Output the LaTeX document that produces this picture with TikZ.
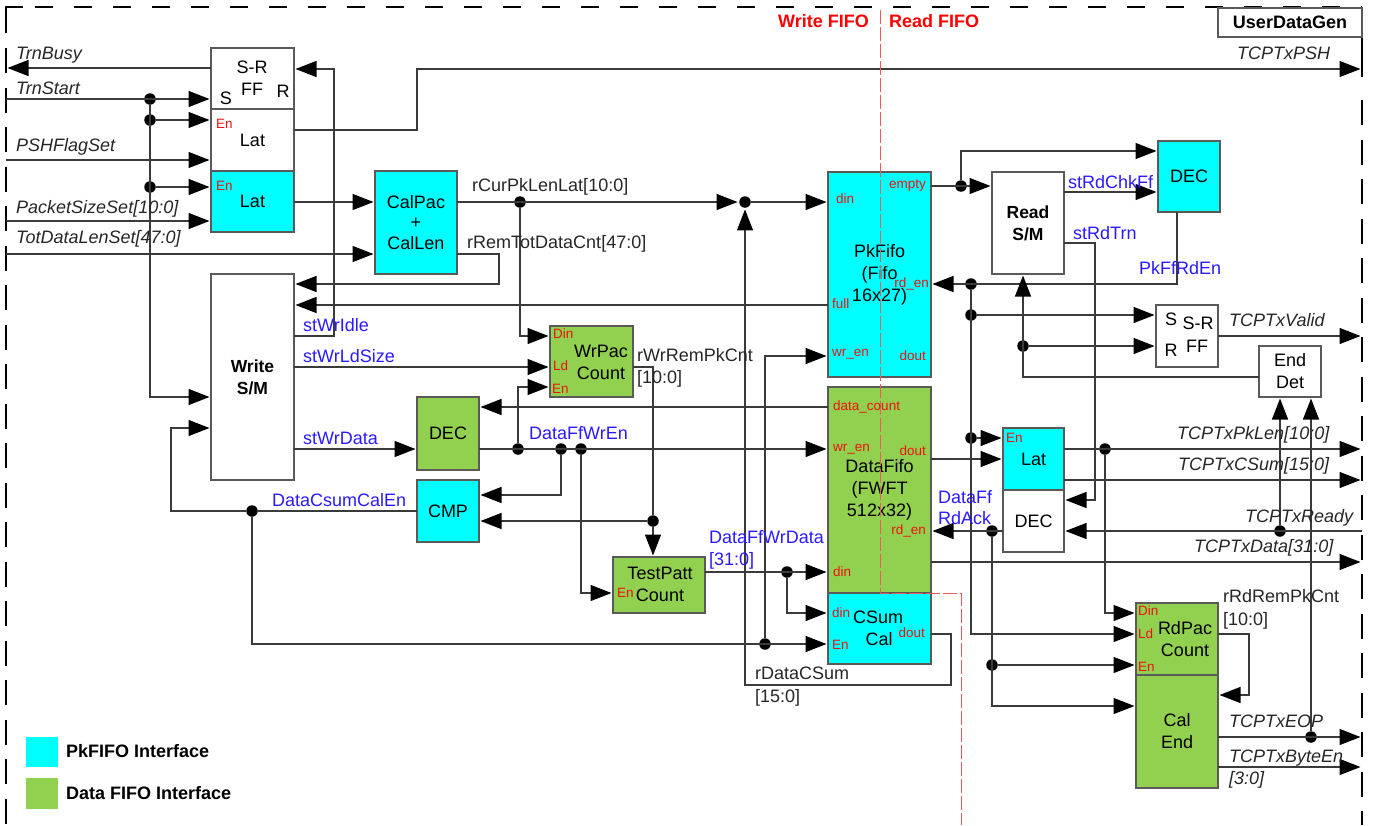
\documentclass[tikz,border=0pt]{standalone}
\usepackage{fontspec}
\setmainfont{Liberation Sans}
\usetikzlibrary{arrows.meta}
\definecolor{PkCyan}{HTML}{00FFFF}
\definecolor{DataGreen}{HTML}{92D050}
\definecolor{SigBlue}{HTML}{2A1AFF}
\definecolor{PortRed}{HTML}{F01010}
\definecolor{WireGray}{HTML}{3A3A3A}
\definecolor{EdgeGray}{HTML}{5A5A5A}
\definecolor{SplitPink}{HTML}{F05A5A}
\tikzset{
  block/.style={draw=EdgeGray, line width=1.4pt, inner sep=0pt, outer sep=0pt, align=center,
    font=\fontsize{18}{22}\selectfont},
  blockbold/.style={font=\fontsize{17.5}{22}\selectfont\bfseries},
  cyanfill/.style={fill=PkCyan},
  greenfill/.style={fill=DataGreen},
  sig/.style={draw=WireGray, line width=1.3pt, shorten >=1.5pt,
    -{Triangle[length=21pt,width=16pt,color=black]}},
  net/.style={draw=WireGray, line width=1.3pt},
  joint/.style={circle, fill=black, inner sep=0pt, minimum size=11.5pt},
  txt/.style={font=\fontsize{18}{22}\selectfont, inner sep=0pt, align=center},
  lbl/.style={font=\fontsize{18}{22}\selectfont, inner sep=0pt, anchor=base west, text=black!85},
  lblblue/.style={lbl, text=SigBlue},
  lblital/.style={lbl, font=\fontsize{18}{22}\selectfont\itshape},
  portl/.style={font=\fontsize{13.5}{16}\selectfont, inner sep=0pt, anchor=west, text=PortRed},
  portr/.style={portl, anchor=east},
  legendtxt/.style={font=\fontsize{18}{20}\selectfont\bfseries, inner sep=0pt, anchor=west},
  headred/.style={font=\fontsize{18}{22}\selectfont\bfseries, inner sep=0pt, anchor=base west, text=red},
  frameline/.style={line width=1.5pt, black},
}
\NewDocumentCommand{\Block}{O{}mmmmmm}{
    \node[block, #1, minimum width={#5-#3}, minimum height={#6-#4}] (#2)
        at ({(#3+#5)/2},{(#4+#6)/2}) {#7};
}

\begin{document}
\begin{tikzpicture}[x=1pt, y=-1pt]
\useasboundingbox (0,0) rectangle (1373,825);

\draw[frameline] (6,33) -- (6,7) -- (23,7);
\draw[frameline, dash pattern=on 18pt off 21pt] (35,7) -- (1362,7);
\draw[frameline, dash pattern=on 25pt off 14.5pt] (6,48) -- (6,825);
\draw[frameline] (1362,37) -- (1362,77);
\draw[frameline, dash pattern=on 25pt off 14.5pt] (1362,100) -- (1362,825);

\begin{scope}[name prefix=Pin-]
    \coordinate (TrnBusy) at (6,68);
    \coordinate (TrnStart) at (6,99);
    \coordinate (PSHFlagSet) at (6,160);
    \coordinate (PacketSizeSet) at (6,221);
    \coordinate (TotDataLenSet) at (6,254);
    \coordinate (TCPTxPSH) at (1362,69);
    \coordinate (TCPTxValid) at (1362,336);
    \coordinate (TCPTxPkLen) at (1362,449);
    \coordinate (TCPTxCSum) at (1362,480);
    \coordinate (TCPTxReady) at (1362,531);
    \coordinate (TCPTxData) at (1362,562);
    \coordinate (TCPTxEOP) at (1362,737);
    \coordinate (TCPTxByteEn) at (1362,767);
\end{scope}

\Block{srFf}{211}{48}{294}{109}{}
\Block{latWhite}{211}{109}{294}{171}{Lat}
\Block[cyanfill]{latCyan}{211}{171}{294}{232}{Lat}
\Block[cyanfill]{calPac}{375}{171}{457}{274}{CalPac\\[-2pt]+\\[-1pt]CalLen}
\Block[blockbold]{writeSm}{211}{274}{294}{480}{Write\\S/M}
\Block[greenfill]{wrPac}{550}{326}{633}{397}{}
\Block[greenfill]{decWr}{417}{397}{479}{470}{DEC}
\Block[cyanfill]{cmpWr}{417}{480}{479}{542}{CMP}
\Block[greenfill]{testPatt}{613}{557}{705}{613}{}
\Block[cyanfill]{pkFifo}{828}{172}{931}{377}{PkFifo\\(Fifo\\16x27)}
\Block[greenfill]{dataFifo}{828}{387}{931}{593}{DataFifo\\(FWFT\\512x32)}
\Block[cyanfill]{cSum}{828}{593}{931}{664}{}
\Block[blockbold]{readSm}{992}{172}{1064}{274}{Read\\S/M}
\Block[cyanfill]{decRd}{1158}{141}{1220}{212}{DEC}
\Block{srFfRd}{1156}{305}{1218}{367}{}
\Block{endDet}{1259}{346}{1321}{397}{End\\Det}
\Block[cyanfill]{latRd}{1003}{428}{1064}{490}{Lat}
\Block{decAck}{1003}{490}{1064}{552}{DEC}
\Block[greenfill]{rdPac}{1136}{603}{1218}{675}{}
\Block[greenfill]{calEnd}{1136}{675}{1218}{788}{Cal\\End}
\Block[font=\fontsize{18}{22}\selectfont\bfseries]{userGen}{1218}{8}{1362}{37}{UserDataGen}

\node[joint] (jStart) at (150,99) {};
\node[joint] (jEnOne) at (150,120) {};
\node[joint] (jEnTwo) at (150,187) {};
\node[joint] (jCur) at (520,202) {};
\node[joint] (jMerge) at (745,202) {};
\node[joint] (jWrA) at (518,449) {};
\node[joint] (jWrB) at (561,449) {};
\node[joint] (jWrC) at (581,449) {};
\node[joint] (jRem) at (653,521) {};
\node[joint] (jCsum) at (252,511) {};
\node[joint] (jCsumEn) at (765,644) {};
\node[joint] (jTest) at (787,572) {};
\node[joint] (jEmpty) at (961,186) {};
\node[joint] (jRdEn) at (971,284) {};
\node[joint] (jValid) at (971,315) {};
\node[joint] (jLatEn) at (971,438) {};
\node[joint] (jEndDet) at (1023,346) {};
\node[joint] (jPkLen) at (1105,449) {};
\node[joint] (jReady) at (1280,531) {};
\node[joint] (jAck) at (992,531) {};
\node[joint] (jAckEn) at (992,665) {};
\node[joint] (jEop) at (1311,737) {};

\draw[sig] (srFf.west |- Pin-TrnBusy) -- (Pin-TrnBusy);
\draw[sig] (Pin-TrnStart) -- (srFf.west |- Pin-TrnStart);
\draw[sig] (jEnOne) -- (latWhite.west |- jEnOne);
\draw[sig] (Pin-PSHFlagSet) -- (latWhite.west |- Pin-PSHFlagSet);
\draw[sig] (jEnTwo) -- (latCyan.west |- jEnTwo);
\draw[sig] (Pin-PacketSizeSet) -- (latCyan.west |- Pin-PacketSizeSet);
\draw[sig] (Pin-TotDataLenSet) -- (calPac.west |- Pin-TotDataLenSet);
\draw[sig] (jStart) |- (writeSm.west |- 0,397);
\draw[sig] (latCyan.east |- 0,202) -- (calPac.west |- 0,202);
\draw[sig] (latWhite.east |- 0,130) -| (417,69) -- (Pin-TCPTxPSH);
\draw[sig] (writeSm.east |- 0,336) -| (334,69) -- (srFf.east |- 0,69);
\draw[sig] (calPac.east |- 0,254) -| (499,284) -- (writeSm.east |- 0,284);
\draw[sig] (pkFifo.west |- 0,305) -- (writeSm.east |- 0,305);
\draw[sig] (writeSm.east |- 0,367) -- (wrPac.west |- 0,367);
\draw[sig] (calPac.east |- jCur) -- (jMerge);
\draw[sig] (jMerge) -- (pkFifo.west |- jMerge);
\draw[sig] (jCur) |- (wrPac.west |- 0,336);
\draw[sig] (jWrA) |- (wrPac.west |- 0,387);
\draw[sig] (writeSm.east |- jWrA) -- (decWr.west |- jWrA);
\draw[sig] (decWr.east |- jWrA) -- (dataFifo.west |- jWrA);
\draw[sig] (jWrB) |- (cmpWr.east |- 0,495);
\draw[sig] (jWrC) |- (testPatt.west |- 0,593);
\draw[net] (wrPac.east |- 0,367) -| (jRem);
\draw[sig] (jRem) -- (jRem |- testPatt.north);
\draw[sig] (jRem) -- (cmpWr.east |- jRem);
\draw[sig] (dataFifo.west |- 0,407) -- (decWr.east |- 0,407);
\draw[net] (cmpWr.west |- jCsum) -- (jCsum);
\draw[sig] (jCsum) -| (171,428) -- (writeSm.west |- 0,428);
\draw[sig] (jCsum) |- (cSum.west |- jCsumEn);
\draw[sig] (jCsumEn) |- (pkFifo.west |- 0,356);
\draw[sig] (testPatt.east |- jTest) -- (dataFifo.west |- jTest);
\draw[sig] (jTest) |- (cSum.west |- 0,613);
\draw[sig] (cSum.east |- 0,634) -| (951,685) -| (jMerge);
\draw[sig] (pkFifo.east |- jEmpty) -- (readSm.west |- jEmpty);
\draw[sig] (jEmpty) |- (decRd.west |- 0,151);
\draw[sig] (readSm.east |- 0,192) -- (decRd.west |- 0,192);
\draw[sig] (readSm.east |- 0,243) -| (1095,500) -- (decAck.east |- 0,500);
\draw[sig] (decRd.south -| 1177,0) |- (pkFifo.east |- jRdEn);
\draw[sig] (jRdEn) |- (rdPac.west |- 0,634);
\draw[sig] (jValid) -- (srFfRd.west |- jValid);
\draw[sig] (jLatEn) -- (latRd.west |- jLatEn);
\draw[sig] (jEndDet) -- (srFfRd.west |- jEndDet);
\draw[sig] (endDet.west |- 0,377) -| (readSm.south -| jEndDet);
\draw[sig] (dataFifo.east |- 0,459) -- (latRd.west |- 0,459);
\draw[sig] (latRd.east |- jPkLen) -- (Pin-TCPTxPkLen);
\draw[sig] (jPkLen) |- (rdPac.west |- 0,613);
\draw[sig] (latRd.east |- Pin-TCPTxCSum) -- (Pin-TCPTxCSum);
\draw[sig] (Pin-TCPTxReady) -- (decAck.east |- Pin-TCPTxReady);
\draw[sig] (jReady) -- (jReady |- endDet.south);
\draw[sig] (decAck.west |- jAck) -- (dataFifo.east |- jAck);
\draw[sig] (jAck) |- (calEnd.west |- 0,706);
\draw[sig] (jAckEn) -- (rdPac.west |- jAckEn);
\draw[sig] (dataFifo.east |- Pin-TCPTxData) -- (Pin-TCPTxData);
\draw[sig] (rdPac.east |- 0,634) -| (1249,695) -- (calEnd.east |- 0,695);
\draw[sig] (calEnd.east |- Pin-TCPTxEOP) -- (Pin-TCPTxEOP);
\draw[sig] (jEop) -- (jEop |- endDet.south);
\draw[sig] (calEnd.east |- Pin-TCPTxByteEn) -- (Pin-TCPTxByteEn);
\draw[sig] (srFfRd.east |- Pin-TCPTxValid) -- (Pin-TCPTxValid);

\draw[SplitPink, line width=1pt, dash pattern=on 14pt off 3pt]
    (880,10) -- (880,593) -- (961,593) -- (961,825);

\node[lblital] (lTrnBusy) at (16,59) {TrnBusy};
\node[lblital] (lTrnStart) at (16,94) {TrnStart};
\node[lblital] (lPSHFlagSet) at (16,151) {PSHFlagSet};
\node[lblital] (lPacketSizeSet) at (16,213) {PacketSizeSet[10:0]};
\node[lblital] (lTotDataLenSet) at (16,243) {TotDataLenSet[47:0]};
\node[txt] (tSR) at (252,67) {S-R};
\node[txt] (tFF) at (252,89) {FF};
\node[txt] (tS) at (226,98) {S};
\node[txt] (tR) at (283,91) {R};
\node[portl] (pLatWhiteEn) at (216,124) {En};
\node[portl] (pLatCyanEn) at (216,186) {En};
\node[lbl] (lCurPkLen) at (472,191) {rCurPkLenLat[10:0]};
\node[lbl] (lRemTot) at (467,248) {rRemTotDataCnt[47:0]};
\node[lblblue] (lStWrIdle) at (303,331) {stWrIdle};
\node[lblblue] (lStWrLdSize) at (303,362) {stWrLdSize};
\node[lblblue] (lStWrData) at (303,444) {stWrData};
\node[lblblue] (lDataFfWrEn) at (529,439) {DataFfWrEn};
\node[lblblue] (lDataCsum) at (272,506) {DataCsumCalEn};
\node[txt] (tWrPac) at (601,362) {WrPac\\Count};
\node[portl] (pWrDin) at (553,334) {Din};
\node[portl] (pWrLd) at (553,366) {Ld};
\node[portl] (pWrEn) at (552,389) {En};
\node[lbl] (lWrRem) at (637,361) {rWrRemPkCnt};
\node[lbl] (lWrRemBits) at (637,383) {[10:0]};
\node[txt] (tTestPatt) at (660,584) {TestPatt\\Count};
\node[portl] (pTestEn) at (617,593) {En};
\node[lblblue] (lWrData) at (709,543) {DataFfWrData};
\node[lblblue] (lWrDataBits) at (709,565) {[31:0]};
\node[portl] (pPkDin) at (836,199) {din};
\node[portr] (pPkEmpty) at (926,186) {empty};
\node[portr] (pPkRdEn) at (929,284) {rd\_en};
\node[portl] (pPkFull) at (832,304) {full};
\node[portl] (pPkWrEn) at (832,354) {wr\_en};
\node[portr] (pPkDout) at (926,356) {dout};
\node[portl] (pDataCount) at (833,407) {data\_count};
\node[portl] (pDataWrEn) at (833,449) {wr\_en};
\node[portr] (pDataDout) at (926,451) {dout};
\node[portr] (pDataRdEn) at (926,531) {rd\_en};
\node[portl] (pDataDin) at (833,572) {din};
\node[portl] (pCsDin) at (832,613) {din};
\node[txt] (tCSum) at (878,617) {CSum};
\node[txt] (tCal) at (879,639) {Cal};
\node[portr] (pCsDout) at (925,633) {dout};
\node[portl] (pCsEn) at (832,645) {En};
\node[lbl] (lDataCSum) at (755,679) {rDataCSum};
\node[lbl] (lDataCSumBits) at (755,702) {[15:0]};
\node[headred] (lWriteFifo) at (778,27) {Write FIFO};
\node[headred] (lReadFifo) at (889,27) {Read FIFO};
\node[lblital] (lPSH) at (1237,59) {TCPTxPSH};
\node[lblblue] (lRdChk) at (1068,188) {stRdChkFf};
\node[lblblue] (lRdTrn) at (1073,239) {stRdTrn};
\node[lblblue] (lPkRdEn) at (1139,274) {PkFfRdEn};
\node[lblital] (lValid) at (1229,326) {TCPTxValid};
\node[txt] (tRdS) at (1171,319) {S};
\node[txt] (tRdR) at (1171,350) {R};
\node[txt] (tRdSR) at (1198,323) {S-R};
\node[txt] (tRdFF) at (1197,346) {FF};
\node[lblital] (lPkLen) at (1177,439) {TCPTxPkLen[10:0]};
\node[lblital] (lCSum) at (1178,470) {TCPTxCSum[15:0]};
\node[lblital] (lReady) at (1245,522) {TCPTxReady};
\node[lblital] (lData) at (1194,552) {TCPTxData[31:0]};
\node[lblblue] (lAck) at (938,503) {DataFf};
\node[lblblue] (lAckTwo) at (938,524) {RdAck};
\node[portl] (pLatRdEn) at (1006,438) {En};
\node[txt] (tRdPac) at (1185,639) {RdPac\\Count};
\node[portl] (pRdDin) at (1138,611) {Din};
\node[portl] (pRdLd) at (1138,634) {Ld};
\node[portl] (pRdEn) at (1138,667) {En};
\node[lbl] (lRdRem) at (1223,602) {rRdRemPkCnt};
\node[lbl] (lRdRemBits) at (1223,625) {[10:0]};
\node[lblital] (lEop) at (1229,727) {TCPTxEOP};
\node[lblital] (lByteEn) at (1229,762) {TCPTxByteEn};
\node[lblital] (lByteEnBits) at (1229,784) {[3:0]};

\node[cyanfill, inner sep=0pt, minimum width=32pt, minimum height=30pt] (keyPk) at (42,752) {};
\node[greenfill, inner sep=0pt, minimum width=32pt, minimum height=31pt] (keyData) at (42,793.5) {};
\node[legendtxt] (lKeyPk) at (66,751) {PkFIFO Interface};
\node[legendtxt] (lKeyData) at (66,793) {Data FIFO Interface};
\end{tikzpicture}
\end{document}
